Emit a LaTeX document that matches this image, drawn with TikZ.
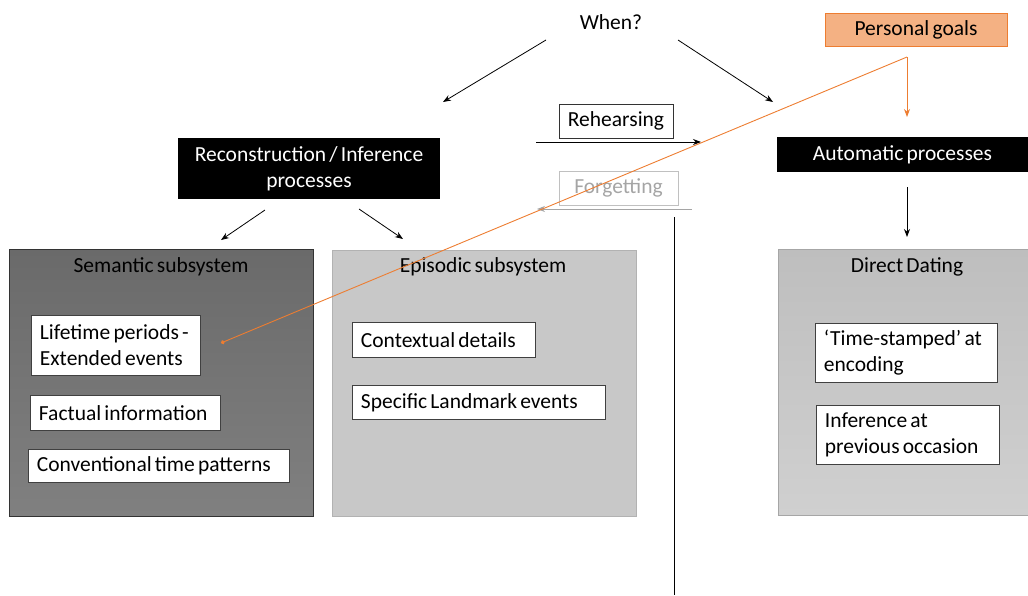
\documentclass[tikz,border=0pt]{standalone}
\usepackage{fontspec}
\setmainfont{Carlito}
\usetikzlibrary{arrows.meta,positioning}
\definecolor{goalfill}{RGB}{244,177,131}
\definecolor{goalline}{RGB}{237,125,49}
\definecolor{semtop}{RGB}{106,106,106}
\definecolor{sembot}{RGB}{128,128,128}
\definecolor{epifill}{RGB}{200,200,200}
\definecolor{dirtop}{RGB}{190,190,190}
\definecolor{dirbot}{RGB}{208,208,208}
\definecolor{forgray}{RGB}{165,165,165}
\newcommand\mybigfont{\fontsize{21.5}{26}\selectfont\spaceskip=3.2pt plus 1pt minus 0.5pt\relax}
\newcommand\tightspace{\spaceskip=3.2pt plus 1pt minus 0.5pt\relax}
\tikzset{
  bigfont/.style={font=\mybigfont},
  txt/.style={bigfont, inner sep=0pt},
  item/.style={draw=black!75, fill=white, line width=0.8pt, bigfont, inner xsep=8.5pt, inner ysep=0pt, anchor=north west, align=left, execute at begin node=\tightspace},
  blackbox/.style={fill=black, text=white, bigfont, inner sep=0pt, align=center, execute at begin node=\tightspace},
  arr/.style={-{Stealth[length=8pt,width=6pt]}, line width=0.8pt},
  sub/.style={anchor=north west, inner sep=0pt, line width=0.8pt},
}
\begin{document}
\begin{tikzpicture}[x=1pt,y=-1pt]
\useasboundingbox (0,0) rectangle (1028,595);
% subsystem boxes
\node[sub, draw=black!80, top color=semtop, bottom color=sembot, minimum width=304pt, minimum height=267pt] (sem) at (9,249) {};
\node[sub, draw=black!30, fill=epifill, minimum width=304pt, minimum height=266pt] (epi) at (332,250) {};
\node[sub, draw=black!35, top color=dirtop, bottom color=dirbot, minimum width=252pt, minimum height=266pt] (dir) at (778,249) {};
\node[txt] (semt) at (161,267) {Semantic subsystem};
\node[txt] (epit) at (483,267) {Episodic subsystem};
\node[txt] (dirt) at (907,267) {Direct Dating};
% items
\node[item, minimum height=60pt, text width=152pt] (life) at (31,315) {\mbox{Lifetime periods -}\\\mbox{Extended events}};
\node[item, minimum height=35pt, text width=173pt] (fact) at (30,395) {\mbox{Factual information}};
\node[item, minimum height=33pt, text width=244pt] (conv) at (28,449) {\mbox{Conventional time patterns}};
\node[item, minimum height=35pt, text width=166pt] (ctx) at (352,322) {\mbox{Contextual details}};
\node[item, minimum height=34pt, text width=236pt] (spec) at (352,385) {\mbox{Specific Landmark events}};
\node[item, minimum height=59pt, text width=165pt] (ts) at (815,323) {\mbox{`Time-stamped' at}\\\mbox{encoding}};
\node[item, minimum height=59pt, text width=166pt] (inf) at (816,405) {\mbox{Inference at}\\\mbox{previous occasion}};
% top
\node[txt] (when) at (611,22) {When?};
\node[draw=goalline, fill=goalfill, line width=0.8pt, bigfont, minimum width=182pt, minimum height=33pt, inner sep=0pt] (goals) at (916,29.5) {Personal goals};
\node[blackbox, minimum width=262pt, minimum height=61pt] (recon) at (309,168.5) {Reconstruction / Inference\\processes};
\node[blackbox, minimum width=251pt, minimum height=35pt] (auto) at (902.5,154.5) {Automatic processes};
\node[draw=black!80, line width=0.8pt, bigfont, minimum width=114pt, minimum height=34pt, inner sep=0pt] (reh) at (616,121) {Rehearsing};
\node[draw=forgray!70, text=forgray, line width=0.8pt, bigfont, minimum width=119pt, minimum height=34pt, inner sep=0pt] (forg) at (618.5,188) {Forgetting};
% coordinates
\coordinate (w1) at (546,40); \coordinate (w1e) at (443,102);
\coordinate (w2) at (678,40); \coordinate (w2e) at (773,102);
\coordinate (r1) at (265,210); \coordinate (r1e) at (221,240);
\coordinate (r2) at (359,209); \coordinate (r2e) at (403,239);
\coordinate (rh1) at (536,142); \coordinate (rh2) at (701,142);
\coordinate (fg1) at (692,209); \coordinate (fg2) at (537,209);
\coordinate (v1) at (674,217); \coordinate (v2) at (674,595);
\coordinate (g0) at (907,57); \coordinate (g1) at (907,117); \coordinate (g2) at (221,343);
\coordinate (a1) at (907,187); \coordinate (a2) at (907,237);
% connectors
\draw[arr] (w1) -- (w1e);
\draw[arr] (w2) -- (w2e);
\draw[arr] (r1) -- (r1e);
\draw[arr] (r2) -- (r2e);
\draw[arr] (rh1) -- (rh2);
\draw[-{Stealth[length=8pt,width=6pt]}, line width=0.8pt, draw=forgray] (fg1) -- (fg2);
\draw[line width=0.8pt] (v1) -- (v2);
\draw[arr] (a1) -- (a2);
\draw[arr, draw=goalline, line width=0.9pt] (g0) -- (g1);
\draw[arr, draw=goalline, line width=0.9pt, -{Circle[length=4pt]}] (g0) -- (g2);
\end{tikzpicture}
\end{document}
